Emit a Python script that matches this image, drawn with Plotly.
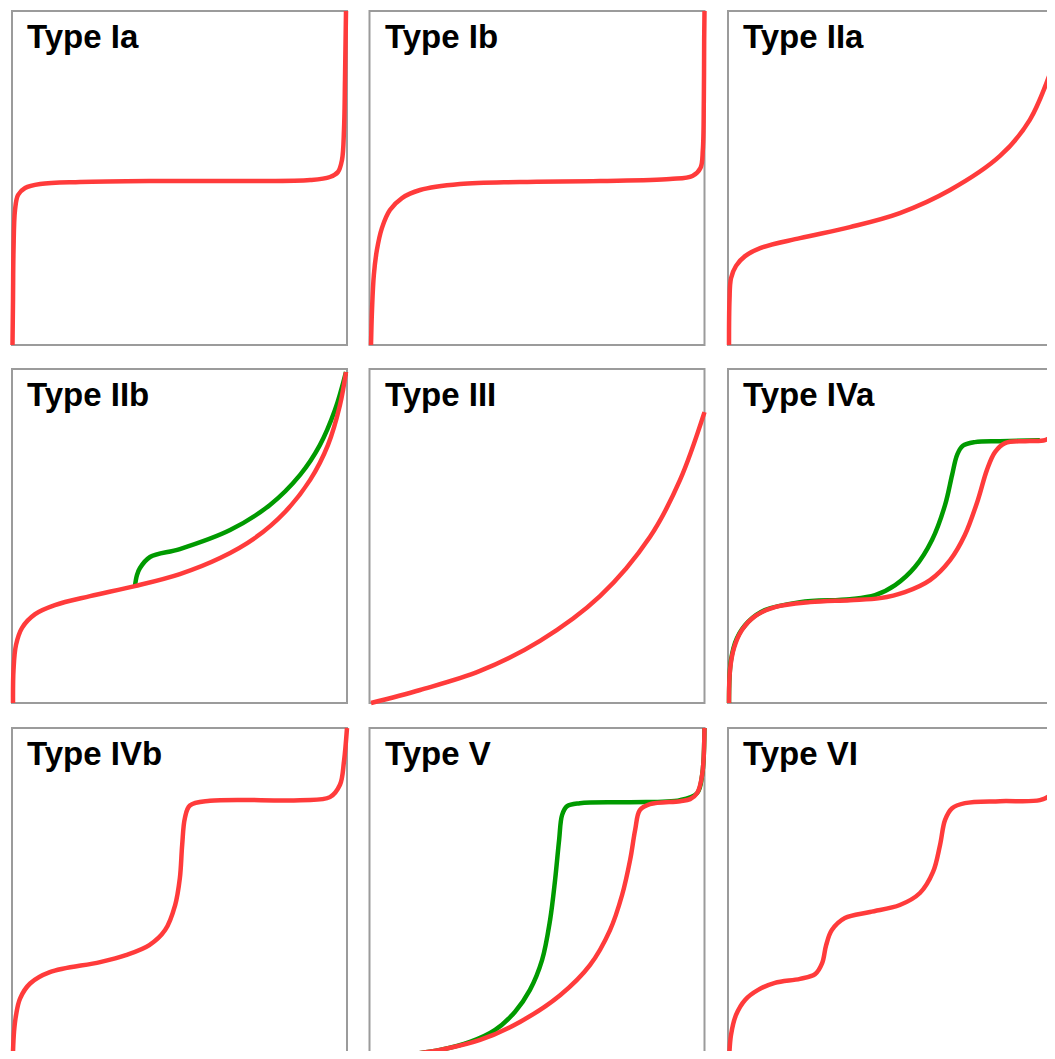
import plotly.graph_objects as go

# The page body has an 8px margin and the visible area ends 8px before the window edge,
# so the figure is sized to the visible area and all panel frames are shifted by 8px.
SHIFT = 8
FIG_W, FIG_H = 1055 - 2 * SHIFT, 1059 - 2 * SHIFT
RED = "#ff3b3b"
GREEN = "#009a00"
BORDER = "#9b9b9b"

titles = ["Type Ia", "Type Ib", "Type IIa", "Type IIb", "Type III",
          "Type IVa", "Type IVb", "Type V", "Type VI"]

# ---- curve data (relative pressure -> amount adsorbed, normalised 0..1) ----
ia_x = [0.0015, 0.003, 0.0045, 0.009, 0.018, 0.039, 0.084, 0.203, 0.412, 0.71, 0.89, 0.949, 0.973, 0.985, 0.991, 0.994, 0.997]
ia_y = [0.0, 0.135, 0.284, 0.404, 0.449, 0.470, 0.482, 0.488, 0.491, 0.491, 0.494, 0.503, 0.518, 0.554, 0.644, 0.793, 1.0]

ib_x = [0.0045, 0.0075, 0.013, 0.022, 0.037, 0.061, 0.097, 0.151, 0.27, 0.449, 0.688, 0.897, 0.964, 0.988, 0.995, 0.998, 0.999, 1.0]
ib_y = [0.0, 0.105, 0.21, 0.284, 0.350, 0.404, 0.440, 0.464, 0.482, 0.488, 0.491, 0.497, 0.506, 0.530, 0.584, 0.734, 0.913, 1.0]

iia_x = [0.003, 0.0045, 0.009, 0.024, 0.051, 0.096, 0.215, 0.364, 0.513, 0.663, 0.812, 0.901, 0.976, 1.0]
iia_y = [0.0, 0.135, 0.2, 0.237, 0.266, 0.29, 0.32, 0.353, 0.395, 0.464, 0.566, 0.674, 0.853, 0.93]

iib_red_x = [0.003, 0.0045, 0.012, 0.03, 0.069, 0.128, 0.233, 0.367, 0.501, 0.621, 0.725, 0.815, 0.89, 0.943, 0.979, 0.997]
iib_red_y = [0.0, 0.099, 0.174, 0.225, 0.266, 0.293, 0.32, 0.35, 0.386, 0.434, 0.494, 0.572, 0.668, 0.772, 0.892, 0.991]
iib_green_x = [0.367, 0.373, 0.382, 0.412, 0.501, 0.651, 0.77, 0.86, 0.919, 0.964, 0.997]
iib_green_y = [0.35, 0.383, 0.404, 0.437, 0.461, 0.518, 0.593, 0.683, 0.772, 0.877, 0.991]

iii_x = [0.0045, 0.151, 0.33, 0.509, 0.688, 0.837, 0.927, 1.0]
iii_y = [0.0, 0.039, 0.096, 0.186, 0.32, 0.497, 0.668, 0.871]

iva_red_x = [0.003, 0.006, 0.018, 0.042, 0.081, 0.14, 0.245, 0.364, 0.454, 0.528, 0.603, 0.663, 0.707, 0.746, 0.773, 0.797, 0.827, 0.887, 0.946, 0.967, 0.976, 0.991]
iva_red_y = [0.0, 0.099, 0.165, 0.219, 0.26, 0.287, 0.302, 0.308, 0.314, 0.332, 0.368, 0.428, 0.503, 0.608, 0.698, 0.751, 0.778, 0.784, 0.787, 0.802, 0.847, 0.967]
iva_green_x = [0.003, 0.009, 0.027, 0.06, 0.11, 0.215, 0.364, 0.439, 0.499, 0.558, 0.609, 0.648, 0.669, 0.684, 0.701, 0.737, 0.812, 0.931]
iva_green_y = [0.0, 0.129, 0.195, 0.243, 0.278, 0.302, 0.311, 0.323, 0.353, 0.407, 0.488, 0.593, 0.683, 0.743, 0.77, 0.781, 0.784, 0.787]

ivb_x = [0.002, 0.006, 0.012, 0.024, 0.054, 0.113, 0.263, 0.34, 0.41, 0.457, 0.487, 0.501, 0.508, 0.516, 0.531, 0.591, 0.86, 0.949, 0.979, 0.991, 1.0]
ivb_y = [0.0, 0.09, 0.14, 0.19, 0.235, 0.269, 0.299, 0.32, 0.35, 0.395, 0.47, 0.55, 0.65, 0.73, 0.768, 0.782, 0.784, 0.793, 0.83, 0.9, 1.0]

v_red_x = [0.0, 0.091, 0.21, 0.33, 0.449, 0.569, 0.658, 0.718, 0.754, 0.778, 0.793, 0.807, 0.837, 0.927, 0.957, 0.978, 0.993, 1.0]
v_red_y = [0.0, 0.018, 0.036, 0.066, 0.12, 0.2, 0.29, 0.395, 0.5, 0.605, 0.695, 0.754, 0.772, 0.781, 0.787, 0.805, 0.86, 1.0]
v_green_x = [0.0, 0.091, 0.21, 0.3, 0.375, 0.434, 0.479, 0.515, 0.539, 0.554, 0.566, 0.575, 0.59, 0.628, 0.778, 0.927, 0.978, 0.993, 1.0]
v_green_y = [0.0, 0.018, 0.036, 0.06, 0.096, 0.15, 0.216, 0.305, 0.425, 0.545, 0.665, 0.74, 0.766, 0.775, 0.778, 0.784, 0.805, 0.86, 1.0]

vi_x = [0.003, 0.009, 0.024, 0.051, 0.09, 0.14, 0.215, 0.26, 0.281, 0.293, 0.31, 0.349, 0.424, 0.513, 0.573, 0.612, 0.633, 0.648, 0.669, 0.707, 0.812, 0.931, 0.961, 0.976, 0.991]
vi_y = [0.0, 0.081, 0.141, 0.186, 0.216, 0.237, 0.249, 0.263, 0.296, 0.35, 0.395, 0.431, 0.449, 0.47, 0.506, 0.569, 0.65, 0.725, 0.76, 0.775, 0.781, 0.784, 0.799, 0.844, 0.904]

panels = [
    [(ia_x, ia_y, RED)],
    [(ib_x, ib_y, RED)],
    [(iia_x, iia_y, RED)],
    [(iib_green_x, iib_green_y, GREEN), (iib_red_x, iib_red_y, RED)],
    [(iii_x, iii_y, RED)],
    [(iva_green_x, iva_green_y, GREEN), (iva_red_x, iva_red_y, RED)],
    [(ivb_x, ivb_y, RED)],
    [(v_green_x, v_green_y, GREEN), (v_red_x, v_red_y, RED)],
    [(vi_x, vi_y, RED)],
]

# panel frames in screen pixels
col_left = [12, 369.5, 728]
row_top = [11, 369, 728]
PW, PH, PAD = 335, 334, 4

fig = go.Figure()
for i, (title, series) in enumerate(zip(titles, panels)):
    r, c = divmod(i, 3)
    ax = "" if i == 0 else str(i + 1)
    L, T = col_left[c] - SHIFT, row_top[r] - SHIFT
    x0, x1 = max(L - PAD, 0), min(L + PW + PAD, FIG_W)
    yt, yb = max(T - PAD, 0), min(T + PH + PAD, FIG_H)
    fig.update_layout(**{
        f"xaxis{ax}": dict(domain=[x0 / FIG_W, x1 / FIG_W], range=[(x0 - L) / PW, (x1 - L) / PW],
                           visible=False, fixedrange=True, anchor=f"y{ax}"),
        f"yaxis{ax}": dict(domain=[1 - yb / FIG_H, 1 - yt / FIG_H],
                           range=[(T + PH - yb) / PH, (T + PH - yt) / PH],
                           visible=False, fixedrange=True, anchor=f"x{ax}"),
    })
    fig.add_shape(type="rect", xref=f"x{ax}", yref=f"y{ax}", x0=0, y0=0, x1=1, y1=1,
                  line=dict(color=BORDER, width=2), layer="below")
    for xs, ys, col in series:
        fig.add_trace(go.Scatter(x=xs, y=ys, mode="lines",
                                 line=dict(color=col, width=4.5, shape="spline", smoothing=1.0),
                                 xaxis=f"x{ax}", yaxis=f"y{ax}", hoverinfo="skip"))
    fig.add_annotation(xref=f"x{ax}", yref=f"y{ax}", x=0.04, y=0.925, text=f"<b>{title}</b>",
                       showarrow=False, xanchor="left", yanchor="middle",
                       font=dict(family="Liberation Sans, Arial, sans-serif", size=33, color="black"))

fig.update_layout(width=FIG_W, height=FIG_H, margin=dict(l=0, r=0, t=0, b=0),
                  paper_bgcolor="white", plot_bgcolor="white", showlegend=False)
fig.write_html("out.html")
